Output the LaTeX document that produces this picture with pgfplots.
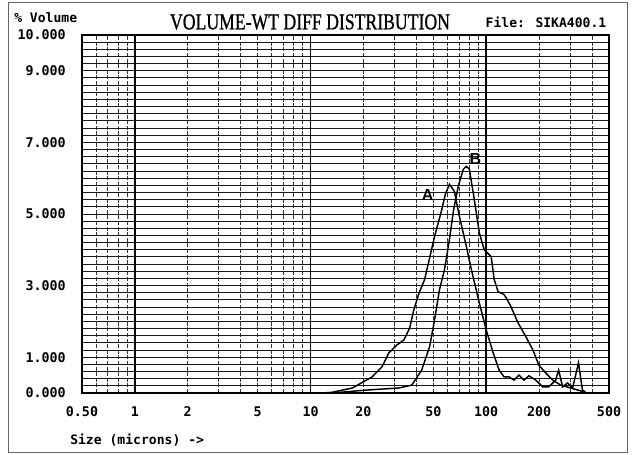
\documentclass[border=0pt]{standalone}
\usepackage{fontspec}
\usepackage{pgfplots}
\pgfplotsset{compat=1.18}
\setmainfont{Liberation Serif}
\newfontfamily\dotfont{DejaVu Sans Mono}
\newfontfamily\titlefont[FakeStretch=0.78, FakeBold=0.8]{Liberation Serif}
\newfontfamily\labfont{Liberation Sans}

% sample A: size (microns), % volume
\pgfplotstableread{
size vol
11.7 0.00
13.3 0.02
17.3 0.14
22.4 0.45
25.5 0.73
27.9 1.12
31.0 1.34
34.0 1.48
36.7 1.82
38.7 2.32
41.5 2.80
44.6 3.17
47.5 3.75
50.8 4.37
55.7 5.10
58.5 5.55
61.8 5.83
65.9 5.63
70.4 4.93
77.1 4.09
82.3 3.45
91.3 2.52
100.0 1.76
109.6 1.12
118.4 0.64
126.4 0.45
134.9 0.45
144.0 0.36
153.6 0.50
164.0 0.36
175.0 0.48
191.5 0.36
209.9 0.17
227.0 0.17
248.4 0.36
258.4 0.64
272.2 0.17
290.4 0.28
310.3 0.14
335.1 0.84
353.0 0.08
367.2 0.03
}\curveA

% sample B
\pgfplotstableread{
size vol
13.3 0.00
20.5 0.08
31.8 0.14
37.7 0.22
42.9 0.64
47.6 1.29
50.8 2.04
54.2 2.89
57.9 3.45
61.8 4.30
65.1 5.10
69.5 5.80
74.1 6.25
77.1 6.33
80.2 6.25
85.5 5.41
91.3 4.48
97.4 4.00
106.7 3.81
111.0 3.17
116.9 2.83
126.4 2.75
132.0 2.60
138.3 2.41
151.7 1.96
168.3 1.57
184.5 1.20
199.2 0.78
218.1 0.56
239.1 0.36
265.6 0.22
302.3 0.14
344.0 0.06
357.8 0.03
}\curveB

\begin{document}
\begin{tikzpicture}
\useasboundingbox (-61.5pt,-45.75pt) rectangle (414pt,294.75pt);
\draw[black!60, line width=0.6pt] (-55.5pt,-44.25pt) rectangle (408.75pt,293.25pt);

\begin{axis}[
    at={(0,0)}, anchor=south west,
    scale only axis, width=395.25pt, height=268.5pt,
    xmode=log, xmin=0.5, xmax=500,
    ymin=0, ymax=10,
    axis line style={black, line width=1pt},
    major tick length=0pt, minor tick length=0pt,
    xtick={0.5,1,2,5,10,20,50,100,200,500},
    xticklabels={0.50,1,2,5,10,20,50,100,200,500},
    minor xtick={0.6,0.7,0.8,0.9,2,3,4,5,6,7,8,9,20,30,40,50,60,70,80,90,200,300,400},
    extra x ticks={1,10,100},
    extra x tick labels={},
    extra x tick style={grid=major, major grid style={black, line width=1.1pt}},
    xminorgrids,
    minor x grid style={black!80, line width=0.5pt, dash pattern=on 3pt off 1.2pt},
    ytick={0,1,3,5,7,9,10},
    yticklabels={0.000,1.000,3.000,5.000,7.000,9.000,10.000},
    minor ytick={0.2,0.4,...,9.9},
    yminorgrids, ymajorgrids,
    major grid style={black!90, line width=0.75pt},
    minor y grid style={black!90, line width=0.75pt},
    x tick label style={font=\dotfont\bfseries\fontsize{10}{10}\selectfont, anchor=center, yshift=-14.25pt},
    y tick label style={font=\dotfont\bfseries\fontsize{10}{10}\selectfont, anchor=east, inner sep=0pt, xshift=-12pt},
    clip=false,
]
\addplot[black, line width=1.1pt] table[x=size, y=vol] {\curveA};
\addplot[black, line width=1.1pt] table[x=size, y=vol] {\curveB};
\node[font=\labfont\bfseries\large] at (axis cs:46.4,5.52) {A};
\node[font=\labfont\bfseries\large] at (axis cs:86.7,6.53) {B};
\end{axis}

\node[font=\titlefont\fontsize{17}{17}\selectfont] at (171pt,278.25pt) {VOLUME-WT DIFF DISTRIBUTION};
\node[font=\dotfont\bfseries\fontsize{9.8}{10}\selectfont] at (348pt,278.25pt) {File: SIKA400.1};
\node[font=\dotfont\bfseries\fontsize{9.8}{10}\selectfont, anchor=west, inner sep=0pt] at (-51pt,281.25pt) {\% Volume};
\node[font=\dotfont\bfseries\fontsize{9.8}{10}\selectfont, anchor=west, inner sep=0pt] at (-9pt,-35.25pt) {Size (microns) ->};
\end{tikzpicture}
\end{document}
